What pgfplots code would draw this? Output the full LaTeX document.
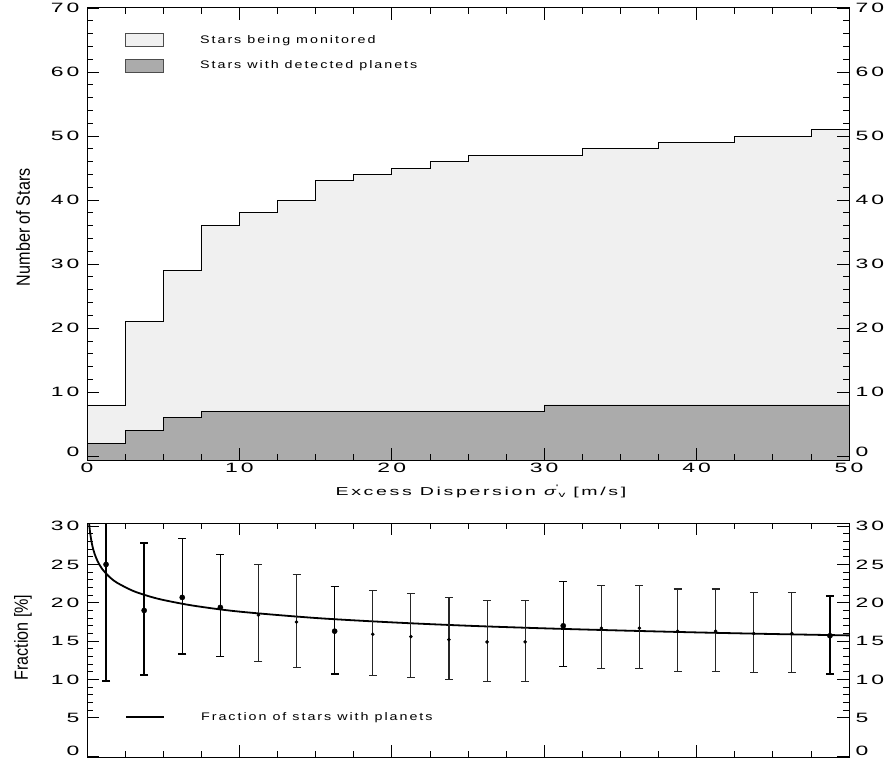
\documentclass[border=0pt]{standalone}
\usepackage{fontspec}
\setmainfont{Liberation Sans}
\newfontfamily\idlA{Liberation Sans}[FakeStretch=1.7,LetterSpace=23]
\newfontfamily\idlB{Liberation Sans}[FakeStretch=1.3,LetterSpace=18]
\newfontfamily\lab{Liberation Sans}[FakeStretch=0.85]
\usepackage{pgfplots}
\pgfplotsset{compat=1.18}
\definecolor{lightfill}{gray}{0.94}
\definecolor{darkfill}{gray}{0.67}

\pgfplotstableread{
x y ep em
1.25 25.0 15.0 15.2
3.75 19.0 8.8 8.4
6.25 20.7 7.7 7.4
8.75 19.4 6.9 6.4
16.25 16.3 5.8 5.6
31.25 17.0 5.8 5.3
48.75 15.7 5.2 5.0
}\bigpts
\pgfplotstableread{
x y ep em
11.25 18.4 6.6 6.1
13.75 17.5 6.2 5.9
18.75 15.9 5.7 5.4
21.25 15.6 5.6 5.3
23.75 15.2 5.5 5.2
26.25 14.9 5.4 5.1
28.75 14.9 5.4 5.1
33.75 16.7 5.5 5.3
36.25 16.7 5.5 5.3
38.75 16.3 5.5 5.2
41.25 16.3 5.5 5.2
43.75 16.0 5.4 5.1
46.25 16.0 5.4 5.1
}\smallpts

\pgfplotsset{
  idl/.style={
    scale only axis, width=762pt, anchor=south west,
    xmin=0, xmax=50, xtick={0,10,...,50}, minor x tick num=3,
    tick align=inside, major tick length=12pt, minor tick length=6pt,
    axis line style={line width=1pt},
    tick style={line width=0.8pt, black},
    ticklabel style={font=\idlA\fontsize{13.5}{14}\selectfont},
    /pgf/number format/assume math mode=true,
    axis on top, xtick pos=both, ytick pos=both,
  },
}

\begin{document}
\begin{tikzpicture}
\useasboundingbox (0pt,0pt) rectangle (885pt,761pt);

% ---------- top panel ----------
\begin{axis}[idl, at={(87pt,301pt)}, height=452pt,
  ymin=-0.6, ymax=70, ytick={10,20,...,70}, minor y tick num=4,
  extra y ticks={0}, extra y tick style={yticklabel style={yshift=4pt}},
  yticklabel style={xshift=-4pt},
  xlabel={Excess Dispersion {\itshape σ}\raisebox{0.8ex}{\fontsize{8}{8}\selectfont '}\raisebox{-0.4ex}{\fontsize{8}{8}\selectfont v} [m/s]},
  xlabel style={at={(axis description cs:0.517,-0.069)}, anchor=center, font=\idlA\fontsize{11.5}{12}\selectfont},
  ylabel={Number of Stars},
  ylabel style={at={(axis description cs:-0.084,0.515)}, anchor=center, font=\lab\fontsize{19}{20}\selectfont},
  legend style={draw=none, fill=none, at={(axis description cs:0.05,0.945)}, anchor=north west,
    inner sep=0pt, row sep=12pt, column sep=36pt, nodes={inner sep=0pt},
    font=\idlB\fontsize{11}{11}\selectfont},
  legend cell align=left,
]
\addplot[const plot, fill=lightfill, draw=black, line width=0.8pt,
  legend image code/.code={\draw[line width=0.8pt, fill=lightfill, draw=black!70] (0pt,-6.5pt) rectangle (38pt,6.5pt);}]
coordinates {(0,-0.6) (0,8) (2.5,21) (5,29) (7.5,36) (10,38) (12.5,40) (15,43) (17.5,44) (20,45) (22.5,46) (25,47) (27.5,47) (30,47) (32.5,48) (35,48) (37.5,49) (40,49) (42.5,50) (45,50) (47.5,51) (50,51) (50,-0.6)};
\addlegendentry{Stars being monitored}
\addplot[const plot, fill=darkfill, draw=black, line width=0.8pt,
  legend image code/.code={\draw[line width=0.8pt, fill=darkfill, draw=black!70] (0pt,-6.5pt) rectangle (38pt,6.5pt);}]
coordinates {(0,-0.6) (0,2) (2.5,4) (5,6) (7.5,7) (10,7) (12.5,7) (15,7) (17.5,7) (20,7) (22.5,7) (25,7) (27.5,7) (30,8) (32.5,8) (35,8) (37.5,8) (40,8) (42.5,8) (45,8) (47.5,8) (50,8) (50,-0.6)};
\addlegendentry{Stars with detected planets}
\end{axis}
\begin{axis}[idl, at={(87pt,301pt)}, height=452pt,
  ymin=-0.6, ymax=70, ytick={10,20,...,70}, minor y tick num=4,
  extra y ticks={0}, extra y tick style={yticklabel style={yshift=4pt}},
  yticklabel pos=right, yticklabel style={xshift=3pt}, xticklabels={}]
\end{axis}

% ---------- bottom panel ----------
\begin{axis}[idl, at={(87pt,4pt)}, height=234pt,
  ymin=-0.1, ymax=30.4, ytick={5,10,...,30}, minor y tick num=4,
  extra y ticks={0}, extra y tick style={yticklabel style={yshift=5pt}},
  xticklabels={}, yticklabel style={xshift=-4pt},
  ylabel={Fraction [\%]},
  ylabel style={at={(axis description cs:-0.084,0.51)}, anchor=center, font=\lab\fontsize{19}{20}\selectfont},
  legend style={draw=none, fill=none, at={(axis description cs:0.05,0.171)}, anchor=west,
    inner sep=0pt, column sep=36pt, nodes={inner sep=0pt},
    font=\idlB\fontsize{11}{11}\selectfont},
  legend cell align=left,
]
\addplot[black, line width=1.8pt, smooth,
  legend image code/.code={\draw[line width=1.8pt] (0pt,0pt) -- (38pt,0pt);}]
coordinates {(0.1,31.58) (0.15,30.18) (0.2,29.22) (0.3,27.92) (0.4,27.04) (0.5,26.37) (0.7,25.40) (1,24.40) (1.5,23.32) (2,22.58) (3,21.57) (4,20.89) (5,20.37) (7,19.62) (10,18.85) (15,18.02) (20,17.45) (25,17.01) (30,16.67) (35,16.39) (40,16.14) (45,15.93) (50,15.75)};
\addlegendentry{Fraction of stars with planets}
\addplot[forget plot, only marks, black, mark=*, mark size=2.6pt,
  error bars/.cd, y dir=both, y explicit,
  error bar style={line width=1.5pt, black},
  error mark options={rotate=90, mark size=4pt, line width=1.5pt, black}]
  table[x=x, y=y, y error plus=ep, y error minus=em] {\bigpts};
\addplot[forget plot, only marks, black, mark=*, mark size=1.6pt,
  error bars/.cd, y dir=both, y explicit,
  error bar style={line width=1.1pt, black!85},
  error mark options={rotate=90, mark size=4pt, line width=1.1pt, black!85}]
  table[x=x, y=y, y error plus=ep, y error minus=em] {\smallpts};
\end{axis}
\begin{axis}[idl, at={(87pt,4pt)}, height=234pt,
  ymin=-0.1, ymax=30.4, ytick={5,10,...,30}, minor y tick num=4,
  extra y ticks={0}, extra y tick style={yticklabel style={yshift=5pt}},
  yticklabel pos=right, yticklabel style={xshift=3pt}, xticklabels={}]
\end{axis}
\end{tikzpicture}
\end{document}
